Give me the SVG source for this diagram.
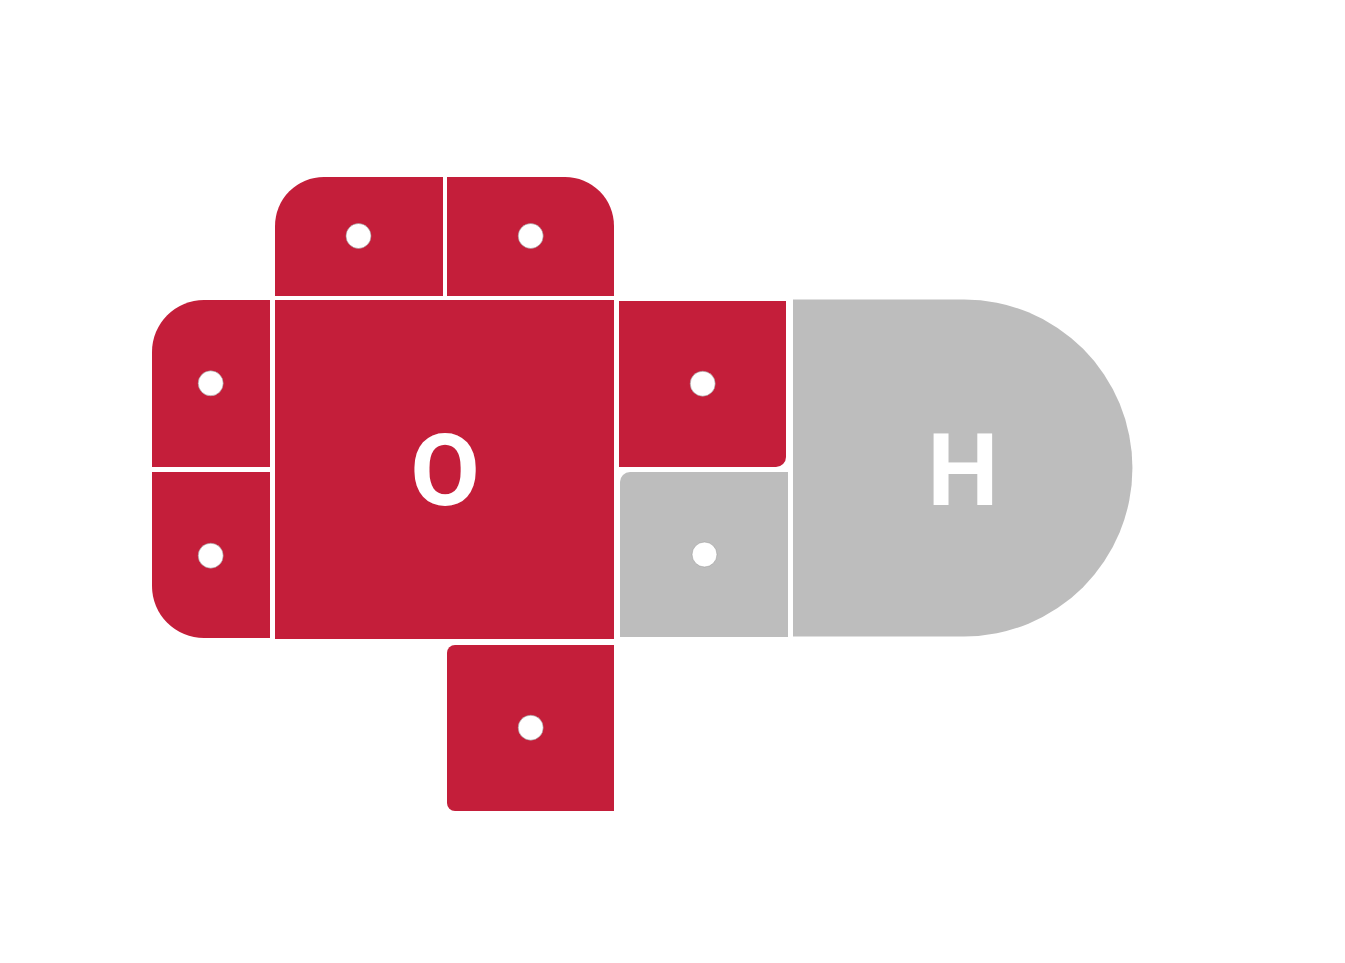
<svg xmlns="http://www.w3.org/2000/svg" width="1345" height="963" viewBox="0 0 1345 963">
  <style>
    .red { fill: #C41E3A; }
    .gray { fill: #BDBDBD; }
    .dot { fill: #FFFFFF; stroke: #9a9a9a; stroke-width: 0.6; }
    .sym { fill: #FFFFFF; font-family: Roboto, "Open Sans", "Liberation Sans", sans-serif; font-weight: 700; font-size: 101px; text-anchor: middle; }
  </style>
  <rect width="1345" height="963" fill="#FFFFFF"/>
  <g id="oxygen">
    <g id="o-top-left">
      <path class="red" d="M275,296 V226 A49,49 0 0 1 324,177 H443 V296 Z"/>
      <circle class="dot" cx="358.5" cy="236" r="12.5"/>
    </g>
    <g id="o-top-right">
      <path class="red" d="M447,296 V177 H565 A49,49 0 0 1 614,226 V296 Z"/>
      <circle class="dot" cx="530.7" cy="236" r="12.5"/>
    </g>
    <g id="o-left-top">
      <path class="red" d="M152,467 V352 A52,52 0 0 1 204,300 H270 V467 Z"/>
      <circle class="dot" cx="210.7" cy="383.3" r="12.5"/>
    </g>
    <g id="o-left-bottom">
      <path class="red" d="M152,472 H270 V638 H204 A52,52 0 0 1 152,586 Z"/>
      <circle class="dot" cx="210.7" cy="555.7" r="12.5"/>
    </g>
    <g id="o-center">
      <rect class="red" x="275" y="300" width="339" height="339"/>
      <text class="sym" x="445" y="505">O</text>
    </g>
    <g id="o-right">
      <path class="red" d="M619,301 H786 V457 A10,10 0 0 1 776,467 H619 Z"/>
      <circle class="dot" cx="702.7" cy="383.7" r="12.5"/>
    </g>
    <g id="o-bottom">
      <path class="red" d="M447,653 A8,8 0 0 1 455,645 H614 V811 H455 A8,8 0 0 1 447,803 Z"/>
      <circle class="dot" cx="530.7" cy="727.7" r="12.5"/>
    </g>
  </g>
  <g id="hydrogen">
    <g id="h-shared">
      <path class="gray" d="M620,482 A10,10 0 0 1 630,472 H788 V637 H620 Z"/>
      <circle class="dot" cx="704.5" cy="554.5" r="12.5"/>
    </g>
    <g id="h-main">
      <path class="gray" d="M793,299.5 H964 A168.5,168.5 0 0 1 964,636.5 H793 Z"/>
      <text class="sym" x="963" y="505">H</text>
    </g>
  </g>
  <g id="connectors"/>
</svg>
